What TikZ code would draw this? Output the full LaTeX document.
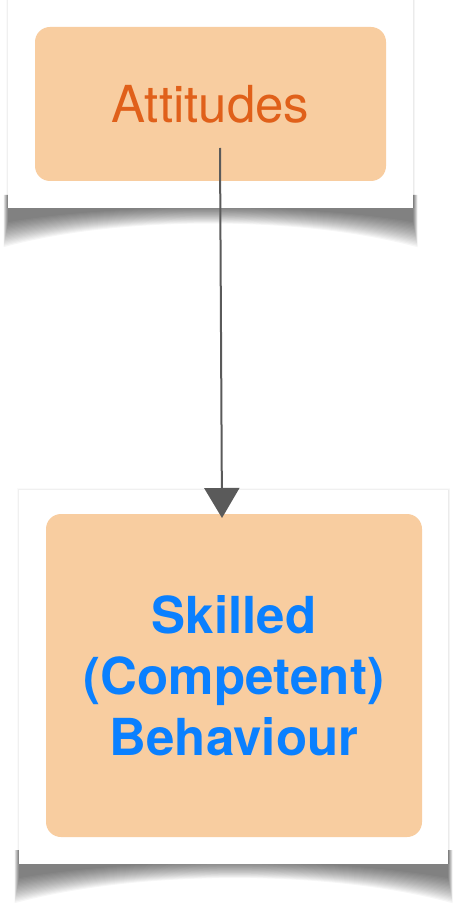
\documentclass[tikz,border=0pt]{standalone}
\usepackage{fontspec}
\setmainfont{TeX Gyre Heros}
\usetikzlibrary{arrows.meta}
\definecolor{boxfill}{HTML}{F8CDA0}
\definecolor{attorange}{HTML}{E0601A}
\definecolor{skillblue}{HTML}{0A80FF}
\definecolor{pencil}{HTML}{5A5A5A}
\tikzset{
  card/.style={fill=boxfill, rounded corners=15pt, inner sep=0pt, align=center,
    font=\fontsize{51}{61}\selectfont},
  panel/.style={fill=white},
  link/.style={draw=pencil, line width=2pt, -{Triangle[width=35pt,length=30pt]}},
}

\begin{document}
\begin{tikzpicture}[x=1pt, y=-1pt]
  \useasboundingbox (0,0) rectangle (457,909);

  % curled shadows under the two panels
  \foreach \d in {0,...,18} {
    \fill[black, opacity=0.035] (8-\d/4,195) -- (413+\d/4,195) -- (413+\d/4,222+1.4*\d)
      .. controls (300,203+0.7*\d) and (120,203+0.7*\d) .. (8-\d/4,222+1.4*\d) -- cycle;
    \fill[black, opacity=0.035] (19-\d/4,850) -- (448+\d/4,850) -- (448+\d/4,878+1.4*\d)
      .. controls (330,857+0.7*\d) and (140,857+0.7*\d) .. (19-\d/4,878+1.4*\d) -- cycle;
  }
  \foreach \d in {1,...,4} {
    \fill[black, opacity=0.02] (8-\d/2,-5) rectangle (413+\d/2,208);
    \fill[black, opacity=0.02] (19-\d/2,490-\d/2) rectangle (448+\d/2,864);
  }
  \fill[panel] (8,-5) rectangle (413,208);
  \fill[panel] (19,490) rectangle (448,864);

  \node[card, minimum width=351pt, minimum height=154pt, text=attorange]
    (attitudes) at (210.5,104) {Attitudes};
  \node[card, minimum width=376pt, minimum height=323pt, text=skillblue,
    font=\fontsize{51}{61}\selectfont\bfseries]
    (skilled) at (234,675.5) {Skilled\\(Competent)\\Behaviour};

  \coordinate (arrowtop) at (220,148);
  \coordinate (arrowtip) at (222,518);
  \draw[link] (arrowtop) -- (arrowtip);
\end{tikzpicture}
\end{document}
